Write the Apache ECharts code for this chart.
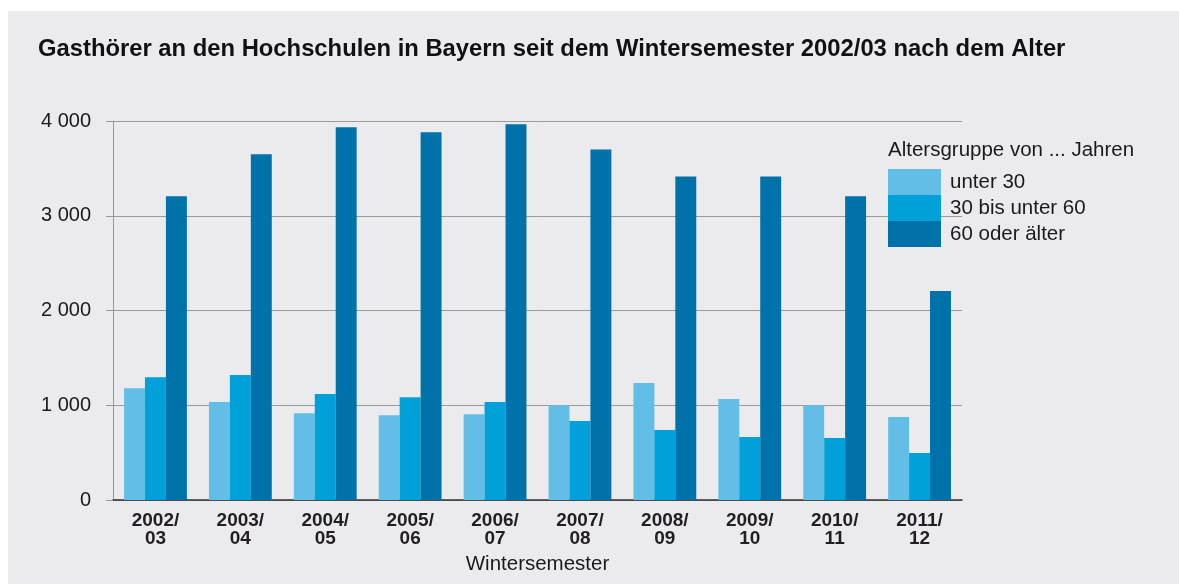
<!DOCTYPE html>
<html>
<head>
<meta charset="utf-8">
<style>
  html, body { margin: 0; padding: 0; background: #ffffff; }
  #chart { width: 1179px; height: 584px; }
</style>
<script src="https://cdn.jsdelivr.net/npm/echarts@6/dist/echarts.min.js"></script>
</head>
<body>
<div id="chart"></div>
<script>
// Wintersemester (Kategorien)
const semesters = ['2002/\n03', '2003/\n04', '2004/\n05', '2005/\n06', '2006/\n07',
                   '2007/\n08', '2008/\n09', '2009/\n10', '2010/\n11', '2011/\n12'];

// Gasthörer nach Altersgruppe
const under30 = [1180, 1035, 915, 895, 905, 1000, 1235, 1065, 1000, 875];
const from30to60 = [1295, 1320, 1120, 1085, 1035, 835, 740, 665, 655, 495];
const over60 = [3205, 3650, 3935, 3880, 3965, 3700, 3415, 3415, 3205, 2205];

const seriesNames = ['unter 30', '30 bis unter 60', '60 oder älter'];
const colors = ['#62bee7', '#00a1d9', '#0072aa'];

const fontFamily = '"Liberation Sans", Arial, Helvetica, sans-serif';

// Tausendertrennzeichen als Leerzeichen
const formatNumber = (v) => String(v).replace(/\B(?=(\d{3})+(?!\d))/g, ' ');

const chart = echarts.init(document.getElementById('chart'));

const option = {
    animation: false,
    textStyle: { fontFamily: fontFamily },
    graphic: [
        {
            type: 'rect',
            silent: true,
            z: -10,
            shape: { x: 8, y: 11, width: 1171, height: 573 },
            style: { fill: '#ebebee' }
        },
        {
            type: 'text',
            left: 888,
            top: 140,
            style: {
                text: 'Altersgruppe von ... Jahren',
                fontSize: 20.5,
                fontFamily: fontFamily,
                fill: '#1a1a1a'
            }
        }
    ],
    title: {
        text: 'Gasthörer an den Hochschulen in Bayern seit dem Wintersemester 2002/03 nach dem Alter',
        left: 33,
        top: 32,
        textStyle: {
            fontSize: 23.8,
            fontWeight: 'bold',
            color: '#111111',
            fontFamily: fontFamily
        }
    },
    legend: {
        orient: 'vertical',
        left: 888,
        top: 169,
        padding: 0,
        itemWidth: 53,
        itemHeight: 26,
        itemGap: 0,
        icon: 'rect',
        data: seriesNames,
        textStyle: {
            fontSize: 20.5,
            color: '#1a1a1a',
            padding: [0, 0, 0, 4]
        }
    },
    grid: {
        left: 113,
        right: 217,
        top: 121,
        bottom: 84
    },
    xAxis: {
        type: 'category',
        data: semesters,
        name: 'Wintersemester',
        nameLocation: 'middle',
        nameGap: 47,
        nameTextStyle: { fontSize: 20.5, color: '#1a1a1a' },
        axisLine: { lineStyle: { color: '#333333', width: 1.5 } },
        axisTick: { show: false },
        axisLabel: {
            fontSize: 19,
            fontWeight: 'bold',
            color: '#231f20',
            lineHeight: 18,
            margin: 12
        }
    },
    yAxis: {
        type: 'value',
        min: 0,
        max: 4000,
        interval: 1000,
        axisLine: { show: true, lineStyle: { color: '#999999' } },
        axisTick: { show: true, length: 7, lineStyle: { color: '#999999' } },
        axisLabel: {
            fontSize: 20,
            color: '#1a1a1a',
            margin: 22,
            formatter: formatNumber
        },
        splitLine: { lineStyle: { color: '#9a9a9a', width: 1 } }
    },
    series: [under30, from30to60, over60].map((values, i) => ({
        name: seriesNames[i],
        type: 'bar',
        data: values,
        barGap: '0%',
        barCategoryGap: '26%',
        itemStyle: { color: colors[i] }
    }))
};

chart.setOption(option);

window.addEventListener('resize', () => {
    chart.resize();
});
</script>
</body>
</html>
